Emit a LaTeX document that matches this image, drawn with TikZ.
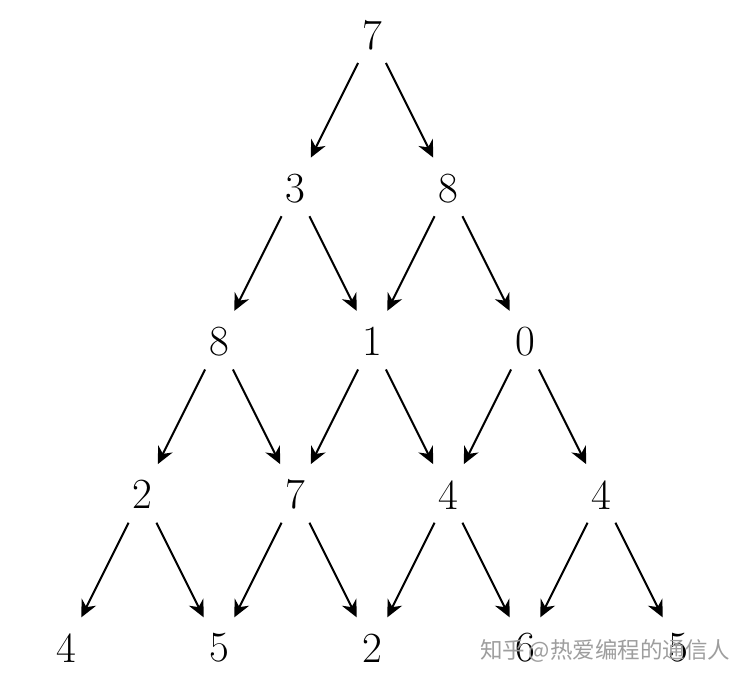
\documentclass[tikz,border=0pt]{standalone}
\usepackage{fontspec}
\newfontfamily\cjk{Noto Sans CJK SC}
\usetikzlibrary{arrows.meta}
\tikzset{
  num/.style={circle, minimum size=62pt, inner sep=0pt, font=\fontsize{43}{50}\selectfont},
  arr/.style={-{Stealth[length=17pt,width=16pt,inset=5.5pt]}, line width=2pt, shorten >=3pt},
  wm/.style={text=black!38, font=\cjk\fontsize{22.5}{24}\selectfont, inner sep=0pt, anchor=west}
}
\begin{document}
\begin{tikzpicture}[x=1pt,y=-1pt]
\useasboundingbox (0,0) rectangle (750,682);
\fill[white] (0,0) rectangle (750,682);
% nodes
\foreach \r/\vals in {0/{7}, 1/{3,8}, 2/{8,1,0}, 3/{2,7,4,4}, 4/{4,5,2,6,5}} {
  \foreach \v [count=\k from 0] in \vals {
    \node[num] (n-\r-\k) at ({372+(2*\k-\r)*76.5},{35+\r*153.25}) {\v};
  }
}
% watermark
\node[wm] (wm) at (480,651) {知乎\,@热爱编程的通信人};
% arrows
\foreach \r in {0,1,2,3} {
  \pgfmathtruncatemacro{\rn}{\r+1}
  \foreach \k in {0,...,\r} {
    \pgfmathtruncatemacro{\kn}{\k+1}
    \draw[arr] (n-\r-\k) -- (n-\rn-\k);
    \draw[arr] (n-\r-\k) -- (n-\rn-\kn);
  }
}
\end{tikzpicture}
\end{document}
